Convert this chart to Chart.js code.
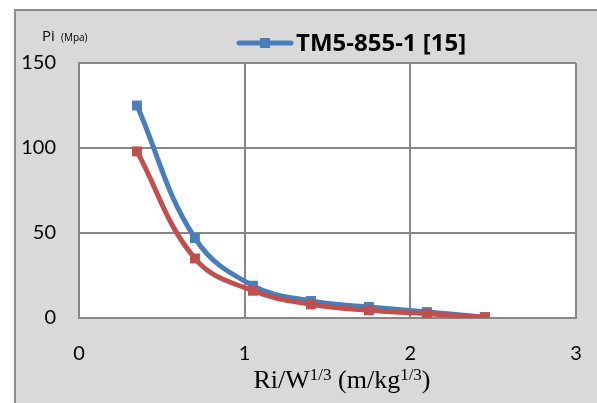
<!DOCTYPE html>
<html>
<head>
<meta charset="utf-8">
<script src="https://cdn.jsdelivr.net/npm/chart.js@4/dist/chart.umd.min.js"></script>
<style>
  html, body { margin: 0; padding: 0; background: #ffffff; }
  #wrap { width: 597px; height: 403px; position: relative; }
</style>
</head>
<body>
<div id="wrap"><canvas id="c" width="597" height="403"></canvas></div>
<script>
// Scaled distance Ri/W^1/3 (m/kg^1/3)
const scaledDistance = [0.35, 0.70, 1.05, 1.40, 1.75, 2.10, 2.45];
// Peak incident pressure Pi (MPa)
const pressureTM5 = [125, 47, 19, 10, 6.5, 3.5, 0.5];
const pressureSeries2 = [98, 35, 16, 8, 4.5, 2.5, 0.5];
const xTicks = [0, 1, 2, 3];
const yTicks = [0, 50, 100, 150];
const seriesNames = ['TM5-855-1 [15]', 'Series2'];

const BLUE = '#4a7ebb';
const RED = '#c0504d';
const GRID = '#878787';

function toPoints(xs, ys) { return xs.map((x, i) => ({ x: x, y: ys[i] })); }

// Panel background, frame, axis caption and legend
const decor = {
  id: 'decor',
  beforeDraw(chart) {
    const ctx = chart.ctx;
    ctx.save();
    ctx.fillStyle = '#ffffff';
    ctx.fillRect(0, 0, chart.width, chart.height);
    ctx.fillStyle = '#d9d9d9';
    ctx.fillRect(14, 9, chart.width - 14, chart.height - 9);
    ctx.strokeStyle = '#8c8c8c';
    ctx.lineWidth = 2;
    ctx.beginPath();
    ctx.moveTo(15, chart.height);
    ctx.lineTo(15, 10);
    ctx.lineTo(chart.width, 10);
    ctx.stroke();
    const a = chart.chartArea;
    ctx.fillStyle = '#ffffff';
    ctx.fillRect(a.left, a.top, a.right - a.left, a.bottom - a.top);
    ctx.restore();
  },
  afterDraw(chart) {
    const ctx = chart.ctx;
    ctx.save();
    ctx.fillStyle = '#000000';
    ctx.textBaseline = 'alphabetic';
    // y axis caption
    ctx.font = '15px "Open Sans", sans-serif';
    ctx.fillText('Pi', 42, 41);
    ctx.font = '10px "Open Sans", sans-serif';
    ctx.fillText('(Mpa)', 61, 41);

    // x axis caption with superscripts
    const parts = [
      ['Ri/W', false], ['1/3', true], [' (m/kg', false], ['1/3', true], [')', false]
    ];
    const big = '26px "Liberation Serif", "DejaVu Serif", serif';
    const small = '17px "Liberation Serif", "DejaVu Serif", serif';
    let total = 0;
    parts.forEach(p => { ctx.font = p[1] ? small : big; total += ctx.measureText(p[0]).width; });
    let x = 342 - total / 2;
    const base = 388;
    parts.forEach(p => {
      ctx.font = p[1] ? small : big;
      ctx.fillText(p[0], x, p[1] ? base - 8 : base);
      x += ctx.measureText(p[0]).width;
    });

    // legend (first series only)
    const ly = 43;
    ctx.strokeStyle = BLUE;
    ctx.lineWidth = 5;
    ctx.lineCap = 'round';
    ctx.beginPath();
    ctx.moveTo(239, ly);
    ctx.lineTo(291, ly);
    ctx.stroke();
    ctx.fillStyle = BLUE;
    ctx.fillRect(260, ly - 5, 10, 10);
    ctx.fillStyle = '#000000';
    ctx.font = 'bold 24px "Open Sans", sans-serif';
    ctx.textBaseline = 'middle';
    ctx.fillText(chart.data.datasets[0].label, 296, ly + 1);
    ctx.restore();
  }
};

new Chart(document.getElementById('c'), {
  type: 'scatter',
  data: {
    datasets: [
      {
        label: seriesNames[0],
        data: toPoints(scaledDistance, pressureTM5),
        showLine: true,
        borderColor: BLUE,
        backgroundColor: BLUE,
        borderWidth: 5,
        tension: 0.4,
        pointStyle: 'rect',
        pointRadius: 7,
        pointBorderWidth: 0,
        order: 2
      },
      {
        label: seriesNames[1],
        data: toPoints(scaledDistance, pressureSeries2),
        showLine: true,
        borderColor: RED,
        backgroundColor: RED,
        borderWidth: 5,
        tension: 0.4,
        pointStyle: 'rect',
        pointRadius: 7,
        pointBorderWidth: 0,
        order: 1
      }
    ]
  },
  options: {
    responsive: false,
    animation: false,
    devicePixelRatio: 1,
    layout: { padding: { left: 0, top: 63, right: 21, bottom: 0 } },
    plugins: { legend: { display: false }, tooltip: { enabled: false } },
    scales: {
      x: {
        type: 'linear',
        min: xTicks[0],
        max: xTicks[xTicks.length - 1],
        afterBuildTicks(scale) { scale.ticks = xTicks.map(v => ({ value: v })); },
        afterFit(scale) {
          scale.height = 85;
          scale.paddingLeft = 0;
          scale.paddingRight = 0;
        },
        grid: { color: GRID, lineWidth: 2, drawTicks: false },
        border: { color: GRID, width: 2 },
        ticks: {
          color: '#000000',
          padding: 24,
          font: { family: 'Lato, "Open Sans", sans-serif', size: 20 }
        }
      },
      y: {
        type: 'linear',
        min: yTicks[0],
        max: yTicks[yTicks.length - 1],
        afterBuildTicks(scale) { scale.ticks = yTicks.map(v => ({ value: v })); },
        afterFit(scale) {
          scale.width = 79;
          scale.paddingTop = 0;
          scale.paddingBottom = 0;
        },
        grid: { color: GRID, lineWidth: 2, drawTicks: false },
        border: { color: GRID, width: 2 },
        ticks: {
          color: '#000000',
          padding: 23,
          font: { family: 'Lato, "Open Sans", sans-serif', size: 20 }
        }
      }
    }
  },
  plugins: [decor]
});
</script>
</body>
</html>
